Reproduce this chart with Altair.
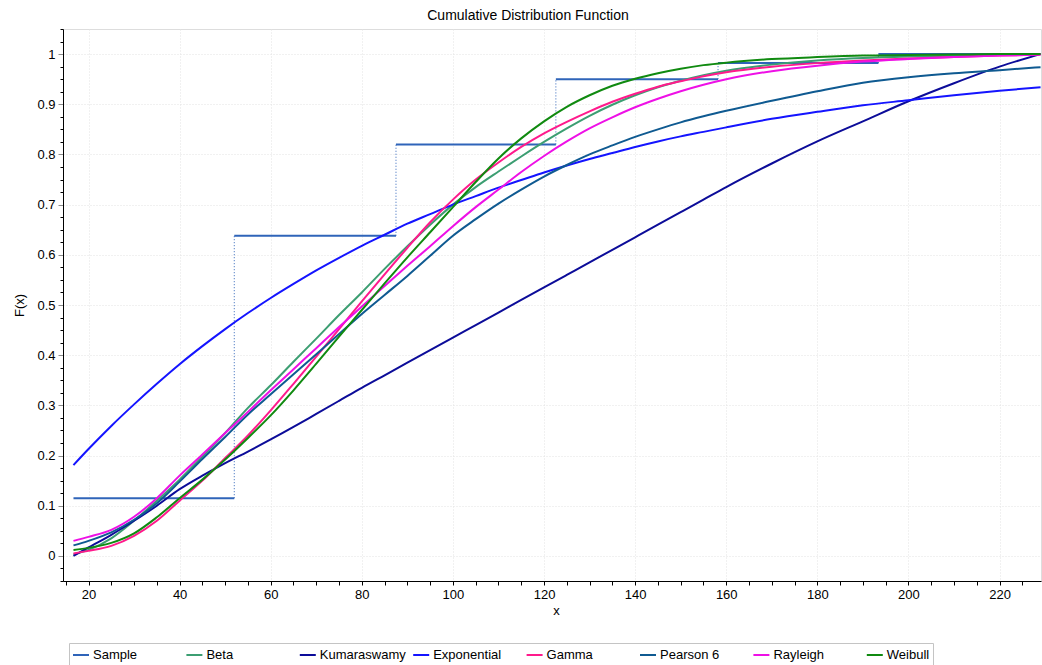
import altair as alt
import pandas as pd

TITLE = "Cumulative Distribution Function"
SERIES = ["Sample", "Beta", "Kumaraswamy", "Exponential", "Gamma", "Pearson 6", "Rayleigh", "Weibull"]
COLORS = ["#2f64b9", "#3c9e72", "#0c0c99", "#1414ff", "#ff1a8c", "#0f5a91", "#ee10e6", "#108a10"]

X_GRID = [16.7, 20, 25, 30, 35, 40, 45, 50, 55, 60,
          65, 70, 75, 80, 85, 90, 95, 100, 105, 110,
          115, 120, 125, 130, 135, 140, 145, 150, 155, 160,
          170, 180, 190, 200, 210, 220, 229]

BETA = [0.003, 0.012, 0.035, 0.07, 0.11, 0.152, 0.198, 0.245, 0.295, 0.34,
        0.387, 0.433, 0.48, 0.525, 0.572, 0.617, 0.66, 0.70, 0.735, 0.766,
        0.796, 0.825, 0.852, 0.877, 0.899, 0.918, 0.934, 0.947, 0.958, 0.967,
        0.979, 0.987, 0.992, 0.995, 0.997, 0.999, 1.0]
KUMARASWAMY = [0.0, 0.017, 0.042, 0.07, 0.1, 0.133, 0.16, 0.185, 0.208, 0.232,
               0.257, 0.283, 0.309, 0.335, 0.36, 0.385, 0.41, 0.435, 0.46, 0.485,
               0.51, 0.535, 0.56, 0.585, 0.61, 0.635, 0.66, 0.685, 0.71, 0.735,
               0.782, 0.826, 0.866, 0.906, 0.942, 0.975, 1.0]
EXPONENTIAL = [0.181, 0.213, 0.259, 0.302, 0.343, 0.382, 0.418, 0.452, 0.484, 0.514,
               0.542, 0.569, 0.594, 0.618, 0.640, 0.662, 0.681, 0.700, 0.717, 0.734,
               0.749, 0.764, 0.778, 0.791, 0.803, 0.815, 0.826, 0.836, 0.845, 0.854,
               0.871, 0.885, 0.898, 0.908, 0.918, 0.927, 0.934]
GAMMA = [0.005, 0.01, 0.02, 0.04, 0.07, 0.11, 0.15, 0.195, 0.24, 0.29,
         0.343, 0.397, 0.452, 0.507, 0.561, 0.614, 0.665, 0.71, 0.75, 0.784,
         0.815, 0.842, 0.865, 0.886, 0.905, 0.921, 0.935, 0.946, 0.956, 0.964,
         0.975, 0.982, 0.987, 0.991, 0.994, 0.997, 0.999]
PEARSON6 = [0.021, 0.03, 0.047, 0.072, 0.105, 0.148, 0.193, 0.237, 0.282, 0.322,
            0.362, 0.402, 0.442, 0.482, 0.52, 0.558, 0.598, 0.638, 0.671, 0.702,
            0.73, 0.756, 0.779, 0.80, 0.818, 0.835, 0.85, 0.864, 0.876, 0.887,
            0.907, 0.926, 0.943, 0.954, 0.962, 0.968, 0.974]
RAYLEIGH = [0.030, 0.038, 0.052, 0.078, 0.115, 0.16, 0.202, 0.245, 0.287, 0.33,
            0.372, 0.414, 0.456, 0.497, 0.538, 0.578, 0.617, 0.657, 0.695, 0.73,
            0.765, 0.797, 0.826, 0.852, 0.874, 0.894, 0.911, 0.926, 0.939, 0.95,
            0.966, 0.977, 0.985, 0.99, 0.994, 0.997, 0.999]
WEIBULL = [0.012, 0.016, 0.026, 0.045, 0.077, 0.115, 0.152, 0.192, 0.235, 0.28,
           0.33, 0.383, 0.437, 0.49, 0.543, 0.595, 0.645, 0.695, 0.745, 0.792,
           0.832, 0.866, 0.895, 0.918, 0.937, 0.951, 0.962, 0.971, 0.978, 0.983,
           0.99, 0.994, 0.997, 0.998, 0.999, 1.0, 1.0]

SAMPLE_X0 = [16.7, 52.0, 87.5, 122.6, 158.2, 193.4]
SAMPLE_X1 = [52.0, 87.5, 122.6, 158.2, 193.4, 228.8]
SAMPLE_F = [0.115, 0.638, 0.82, 0.95, 0.982, 1.0]

X_TICKS = list(range(15, 230, 5))
Y_TICKS = [round(-0.05 + 0.025 * i, 3) for i in range(45)]

curve_sets = [("Beta", BETA), ("Kumaraswamy", KUMARASWAMY), ("Exponential", EXPONENTIAL),
              ("Gamma", GAMMA), ("Pearson 6", PEARSON6), ("Rayleigh", RAYLEIGH), ("Weibull", WEIBULL)]
rows = []
for name, vals in curve_sets:
    for xv, fv in zip(X_GRID, vals):
        rows.append({"series": name, "x": xv, "F": fv})
curves = pd.DataFrame(rows)
steps = pd.DataFrame({"series": "Sample", "x0": SAMPLE_X0, "x1": SAMPLE_X1, "F": SAMPLE_F})
jumps = pd.DataFrame({"x": SAMPLE_X1[:-1], "F0": SAMPLE_F[:-1], "F1": SAMPLE_F[1:]})

FONT = "Liberation Sans"
xscale = alt.Scale(domain=[14.4, 229.1], nice=False, zero=False)
yscale = alt.Scale(domain=[-0.05, 1.05], nice=False, zero=False)

x_axis = alt.Axis(
    values=X_TICKS,
    labelExpr="datum.value % 20 === 0 ? datum.value : ''",
    labelOverlap=False, labelFlush=False,
    labelFont=FONT, labelFontSize=13, labelColor="black", labelPadding=3,
    tickSize=4, tickColor="black", domainColor="black",
    gridOpacity={"condition": {"test": "datum.value % 20 === 0", "value": 1}, "value": 0},
    gridColor="#e2e2e2", gridDash=[1, 2],
    title="x", titleFont=FONT, titleFontSize=13, titleFontWeight="normal", titleColor="black",
    titleX=493, titleY=29, titleBaseline="middle", titleAlign="center",
)
major_y = "abs(datum.value*10 - round(datum.value*10)) < 0.001"
y_axis = alt.Axis(
    values=Y_TICKS,
    labelExpr=major_y + " && datum.value > -0.001 ? format(datum.value, '.1~f') : ''",
    labelOverlap=False, labelFlush=False,
    labelFont=FONT, labelFontSize=13, labelColor="black", labelPadding=3,
    tickSize={"condition": {"test": major_y, "value": 5}, "value": 3},
    tickColor={"condition": {"test": major_y, "value": "#8c8c8c"}, "value": "black"},
    domainColor="black",
    gridOpacity={"condition": {"test": major_y + " && datum.value > -0.001", "value": 1}, "value": 0},
    gridColor="#e2e2e2", gridDash=[1, 2],
    title="F(x)", titleFont=FONT, titleFontSize=13, titleFontWeight="normal", titleColor="black",
    titleX=-44, titleY=276, titleAngle=270, titleAlign="center", titleBaseline="middle",
)

color = alt.Color(
    "series:N",
    scale=alt.Scale(domain=SERIES, range=COLORS),
    legend=alt.Legend(
        title=None, orient="none", legendX=6, legendY=614,
        columns=8, gridAlign="all", columnPadding=3.4,
        symbolType="stroke", symbolSize=256, symbolStrokeWidth=2, labelOffset=3,
        labelFont=FONT, labelFontSize=13, labelColor="black",
        padding=3, strokeColor="#c4c4c4", fillColor="white",
    ),
    sort=SERIES,
)

jump_layer = alt.Chart(jumps).mark_rule(strokeDash=[1, 2], strokeWidth=1, color=COLORS[0]).encode(
    x=alt.X("x:Q", scale=xscale, axis=x_axis),
    y=alt.Y("F0:Q", scale=yscale, axis=y_axis),
    y2="F1:Q",
)
step_layer = alt.Chart(steps).mark_rule(strokeWidth=2).encode(
    x=alt.X("x0:Q", scale=xscale, axis=x_axis),
    x2="x1:Q",
    y=alt.Y("F:Q", scale=yscale, axis=y_axis),
    color=color,
)
line_layer = alt.Chart(curves).mark_line(strokeWidth=2, interpolate="monotone").encode(
    x=alt.X("x:Q", scale=xscale, axis=x_axis),
    y=alt.Y("F:Q", scale=yscale, axis=y_axis),
    color=color,
    detail="series:N",
)

chart = alt.layer(jump_layer, step_layer, line_layer).properties(
    width=978, height=552,
    autosize=alt.AutoSizeParams(type="none"),
    padding={"left": 63, "top": 29, "right": 1, "bottom": 84},
    title=alt.TitleParams(TITLE, font=FONT, fontSize=14, fontWeight="normal", color="black",
                          anchor="middle", offset=0, dx=-24),
).configure_view(stroke="black", strokeWidth=1).configure(background="white")

chart.save("out.html", embed_options={"renderer": "svg", "actions": False})
